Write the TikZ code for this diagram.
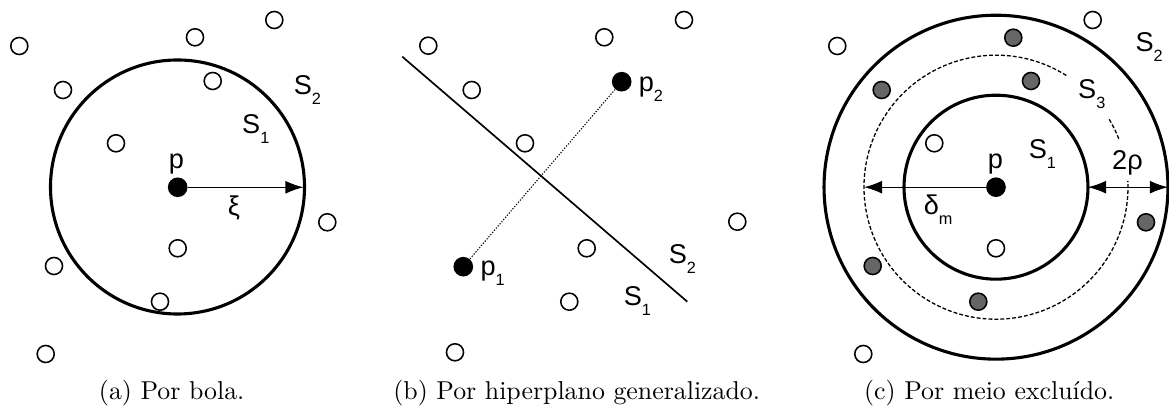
\documentclass[tikz,border=0pt]{standalone}
\usepackage{fontspec}
\newfontfamily\labfont{Liberation Sans}
\usetikzlibrary{arrows.meta}
\definecolor{dgrey}{RGB}{102,102,102}
\newcommand\lbl[2]{#1\raisebox{-3.8pt}{\fontsize{6.3pt}{6.3pt}\selectfont #2}}
\begin{document}
\begin{tikzpicture}[x=0.387pt,y=0.387pt,
 opencirc/.style={circle,draw,line width=0.6pt,minimum size=6.6pt,inner sep=0pt,fill=white},
 greycirc/.style={opencirc,fill=dgrey},
 dotc/.style={circle,fill=black,minimum size=7.6pt,inner sep=0pt},
 bigc/.style={circle,draw,line width=1.2pt,inner sep=0pt,outer sep=0pt},
 lab/.style={font=\labfont\fontsize{10.5pt}{12pt}\selectfont,inner sep=0pt,anchor=base west},
 captext/.style={font=\fontsize{10pt}{12pt}\selectfont,anchor=base,inner sep=0pt},
 tipa/.tip={Latex[length=7pt,width=5pt]},
 arr/.style={line width=0.5pt,-tipa},
 dblarr/.style={line width=0.5pt,tipa-tipa},
 dashc/.style={line width=0.5pt,dash pattern=on 1.5pt off 0.8pt},
 dotl/.style={line width=0.4pt,dash pattern=on 0.5pt off 0.6pt},
]
\useasboundingbox (0,0) rectangle (1169,408);

% ---------- (a) ----------
\node[bigc,minimum size=98.3pt] (Ba) at (177.5,221) {};
\node[dotc] (pa) at (177.7,220.7) {};
\coordinate (ea) at (303.5,220.7);
\draw[arr] (pa) -- (ea);
\foreach \n/\x/\y in {a1/19.3/362, a2/195/370.7, a3/274.3/388, a4/212.7/327, a5/63/318,
  a6/116/264.7, a7/327.3/185.7, a8/177.7/159.7, a9/54/142, a10/160/106.3, a11/45.7/54}
  \node[opencirc] (\n) at (\x,\y) {};
\node[lab] (S2a) at (293.3,313) {\lbl{S}{2}};
\node[lab] (S1a) at (241.7,274.7) {\lbl{S}{1}};
\node[lab,anchor=base] (pla) at (176.3,239.7) {p};
\node[lab,anchor=base] (xi) at (234,192.5) {ξ};
\node[captext] (capa) at (171.7,8) {(a) Por bola.};

% ---------- (b) ----------
\coordinate (h1) at (402.3,351.3);
\coordinate (h2) at (687.3,106.3);
\draw[line width=0.65pt] (h1) -- (h2);
\node[dotc] (p2) at (621.7,326.3) {};
\node[dotc] (p1) at (463.3,141.3) {};
\draw[dotl] (p1) -- (p2);
\foreach \n/\x/\y in {b1/428.3/362.3, b2/604.3/370.7, b3/684/388, b4/471.7/318, b5/525/264.7,
  b6/737.3/186.3, b7/586.7/159.7, b8/569.3/106.3, b9/455/55.7}
  \node[opencirc] (\n) at (\x,\y) {};
\node[lab] (lp2) at (638.3,316.3) {\lbl{p}{2}};
\node[lab] (lp1) at (480,132) {\lbl{p}{1}};
\node[lab] (S2b) at (668.3,144.7) {\lbl{S}{2}};
\node[lab] (S1b) at (623.3,102) {\lbl{S}{1}};
\node[captext] (capb) at (576.7,8) {(b) Por hiperplano generalizado.};

% ---------- (c) ----------
\coordinate (oc) at (996,220.8);
\node[bigc,minimum size=133.1pt] (C2) at (oc) {};
\node[bigc,minimum size=71.2pt] (C1) at (oc) {};
\draw[dashc] (oc) ++(57.8:132) arc[start angle=57.8,end angle=362.7,radius=132];
\draw[dashc] (oc) ++(21.5:132) arc[start angle=21.5,end angle=31.1,radius=132];
\node[dotc] (pc) at (oc) {};
\coordinate (dw) at (864,220.8);
\draw[arr] (pc) -- (dw);
\draw[dblarr] (C1.east) -- (C2.east);
\foreach \n/\x/\y in {g1/1013.3/370.3, g2/1031/327, g3/881.7/318, g4/1146/185.7,
  g5/872.7/142, g6/978.3/106.3}
  \node[greycirc] (\n) at (\x,\y) {};
\foreach \n/\x/\y in {c1/837.3/362, c2/1092.7/388, c3/934.3/264.7, c4/996/159.7, c5/863.3/54}
  \node[opencirc] (\n) at (\x,\y) {};
\node[lab] (S2c) at (1135,356.3) {\lbl{S}{2}};
\node[lab] (S3c) at (1077.7,309) {\lbl{S}{3}};
\node[lab] (S1c) at (1028.3,249.7) {\lbl{S}{1}};
\node[lab,anchor=base] (plc) at (995.5,239.7) {p};
\node[lab] (rho) at (1111.7,238) {2ρ};
\node[lab] (delta) at (923.3,193) {\lbl{δ}{m}};
\node[captext] (capc) at (989.2,8) {(c) Por meio excluído.};
\end{tikzpicture}
\end{document}
